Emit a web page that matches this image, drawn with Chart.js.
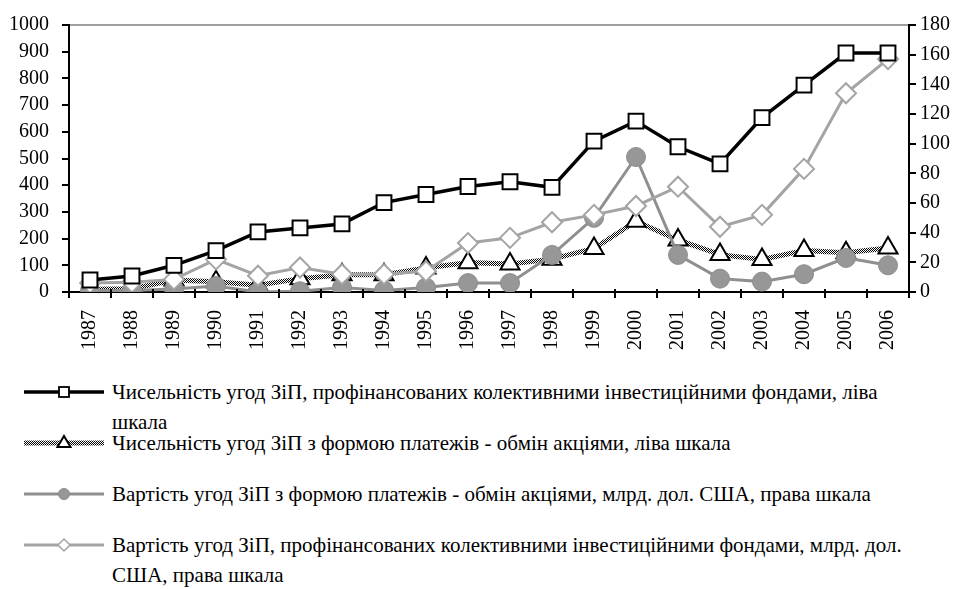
<!DOCTYPE html>
<html>
<head>
<meta charset="utf-8">
<script src="https://cdn.jsdelivr.net/npm/chart.js@4"></script>
<style>
  html, body { margin: 0; padding: 0; background: #fff; }
  body { width: 964px; height: 589px; position: relative; overflow: hidden;
         font-family: "Liberation Serif", Tinos, "DejaVu Serif", serif; }
  #chart { position: absolute; left: 0; top: 0; }
  .item { position: absolute; left: 0; height: 51px; width: 964px; }
  .item svg { position: absolute; left: 24px; top: 5px; }
  .item .txt { position: absolute; left: 112px; top: 0; font-size: 21px;
               line-height: 30px; white-space: nowrap; color: #000; }
</style>
</head>
<body>
<canvas id="chart" width="964" height="370"></canvas>
<div id="legend"></div>
<script>
const years = ["1987", "1988", "1989", "1990", "1991", "1992", "1993", "1994", "1995", "1996",
               "1997", "1998", "1999", "2000", "2001", "2002", "2003", "2004", "2005", "2006"];
// left axis
const dealsFunds = [45, 60, 100, 155, 225, 240, 255, 335, 365, 395,
                    413, 392, 565, 640, 544, 480, 653, 775, 895, 895];
const dealsShares = [10, 12, 45, 38, 25, 50, 65, 65, 90, 110,
                     105, 123, 163, 265, 195, 140, 122, 155, 147, 165];
// right axis
const valueShares = [1, 1, 2, 4, 0, 0.5, 3, 1, 3, 6,
                     6, 25, 50, 91, 25, 9, 7, 12, 23, 18];
const valueFunds = [6, 6.5, 8.5, 22, 11, 16.5, 12, 12, 14, 33,
                    36.5, 47, 52, 58, 71, 44, 52, 83, 134, 157];
const leftTicks = { min: 0, max: 1000, step: 100 };
const rightTicks = { min: 0, max: 180, step: 20 };

const labelTexts = [
    "Чисельність угод ЗіП, профінансованих колективними інвестиційними фондами, ліва<br>шкала",
    "Чисельність угод ЗіП з формою платежів - обмін акціями, ліва шкала",
    "Вартість угод ЗіП з формою платежів - обмін акціями, млрд. дол. США, права шкала",
    "Вартість угод ЗіП, профінансованих колективними інвестиційними фондами, млрд. дол.<br>США, права шкала"
];

const FONT = '"Liberation Serif", Tinos, "DejaVu Serif", serif';
Chart.defaults.font.family = FONT;
Chart.defaults.font.size = 20;
Chart.defaults.color = "#000";

// checkered pattern for the "exchange of shares" line
function makePattern() {
    const c = document.createElement("canvas");
    c.width = 2;
    c.height = 2;
    const g = c.getContext("2d");
    g.fillStyle = "#fff";
    g.fillRect(0, 0, 2, 2);
    g.fillStyle = "#000";
    g.fillRect(0, 0, 1, 1);
    g.fillRect(1, 1, 1, 1);
    return g.createPattern(c, "repeat");
}

// small inner part of the category ticks (they cross the axis)
const crossTicks = {
    id: "crossTicks",
    afterDraw(chart) {
        const x = chart.scales.x;
        const c = chart.ctx;
        const n = years.length;
        const w = (x.right - x.left) / n;
        c.save();
        c.strokeStyle = "#000";
        c.lineWidth = 2;
        c.beginPath();
        for (let i = 1; i < n; i++) {
            const px = Math.round(x.left + i * w);
            c.moveTo(px, x.top - 3);
            c.lineTo(px, x.top);
        }
        c.stroke();
        c.restore();
    }
};

function drawChart() {
    const ctx = document.getElementById("chart").getContext("2d");
    const hatch = makePattern();
    new Chart(ctx, {
        type: "line",
        data: {
            labels: years,
            datasets: [
                {
                    data: dealsFunds,
                    yAxisID: "y",
                    borderColor: "#000",
                    borderWidth: 3.5,
                    pointStyle: "rect",
                    pointRadius: 10.5,
                    pointBorderWidth: 2,
                    pointBackgroundColor: "#fff",
                    pointBorderColor: "#000",
                    order: 1,
                },
                {
                    data: dealsShares,
                    yAxisID: "y",
                    borderColor: hatch,
                    borderWidth: 5,
                    pointStyle: "triangle",
                    pointRadius: 11,
                    pointBorderWidth: 2,
                    pointBackgroundColor: "#fff",
                    pointBorderColor: "#000",
                    order: 4,
                },
                {
                    data: valueShares,
                    yAxisID: "y1",
                    borderColor: "#8f8f8f",
                    borderWidth: 3,
                    pointStyle: "circle",
                    pointRadius: 9.5,
                    pointBorderWidth: 1,
                    pointBackgroundColor: "#979797",
                    pointBorderColor: "#8c8c8c",
                    order: 3,
                },
                {
                    data: valueFunds,
                    yAxisID: "y1",
                    borderColor: "#a4a4a4",
                    borderWidth: 3,
                    pointStyle: "rectRot",
                    pointRadius: 10,
                    pointBorderWidth: 2,
                    pointBackgroundColor: "#fff",
                    pointBorderColor: "#a4a4a4",
                    order: 2,
                },
            ],
        },
        options: {
            responsive: false,
            animation: false,
            devicePixelRatio: 1,
            layout: { padding: { top: 16, left: 0, right: 0, bottom: 0 } },
            elements: { line: { tension: 0 } },
            plugins: { legend: { display: false }, tooltip: { enabled: false } },
            scales: {
                x: {
                    offset: true,
                    afterFit(s) { s.height = 78; },
                    grid: {
                        offset: true,
                        drawOnChartArea: false,
                        tickLength: 6,
                        tickColor: "#000",
                        lineWidth: 2,
                    },
                    border: { color: "#000", width: 2 },
                    ticks: { minRotation: 90, maxRotation: 90, autoSkip: false, padding: 12, font: { size: 20, family: FONT } },
                },
                y: {
                    position: "left",
                    min: leftTicks.min,
                    max: leftTicks.max,
                    afterFit(s) { s.width = 69; },
                    grid: {
                        color: (c) => (c.tick && c.tick.value === leftTicks.max ? "#a0a0a0" : "rgba(0,0,0,0)"),
                        tickColor: "#000",
                        tickLength: 7,
                        lineWidth: 2,
                    },
                    border: { color: "#000", width: 2 },
                    ticks: {
                        stepSize: leftTicks.step,
                        autoSkip: false,
                        padding: 13,
                        font: { size: 20, family: FONT },
                        callback: (v) => String(v),
                    },
                },
                y1: {
                    position: "right",
                    min: rightTicks.min,
                    max: rightTicks.max,
                    afterFit(s) { s.width = 55; },
                    grid: { drawOnChartArea: false, tickColor: "#000", tickLength: 7, lineWidth: 2 },
                    border: { color: "#000", width: 2 },
                    ticks: {
                        stepSize: rightTicks.step,
                        autoSkip: false,
                        padding: 4,
                        font: { size: 20, family: FONT },
                        callback: (v) => String(v),
                    },
                },
            },
        },
        plugins: [crossTicks],
    });
}

// legend drawn as html so the long labels can wrap like in the source
const legendStyles = [
    { line: "#000", lw: 3.5, marker: "square", stroke: "#000", fill: "#fff" },
    { line: "hatch", lw: 5, marker: "triangle", stroke: "#000", fill: "#fff" },
    { line: "#8f8f8f", lw: 3, marker: "circle", stroke: "#8c8c8c", fill: "#979797" },
    { line: "#a4a4a4", lw: 3, marker: "diamond", stroke: "#a4a4a4", fill: "#fff" },
];
const legendTops = [377, 428, 479, 530];

function markerSvg(st) {
    const cx = 40, cy = 10;
    if (st.marker === "square")
        return `<rect x="${cx - 5}" y="${cy - 5}" width="10" height="10" fill="${st.fill}" stroke="${st.stroke}" stroke-width="1.8"/>`;
    if (st.marker === "triangle")
        return `<polygon points="${cx},${cy - 7} ${cx + 6.5},${cy + 4} ${cx - 6.5},${cy + 4}" fill="${st.fill}" stroke="${st.stroke}" stroke-width="2"/>`;
    if (st.marker === "circle")
        return `<circle cx="${cx}" cy="${cy}" r="5.5" fill="${st.fill}" stroke="${st.stroke}" stroke-width="1"/>`;
    return `<polygon points="${cx},${cy - 6} ${cx + 6},${cy} ${cx},${cy + 6} ${cx - 6},${cy}" fill="${st.fill}" stroke="${st.stroke}" stroke-width="1.5"/>`;
}

function drawLegend() {
    const legend = document.getElementById("legend");
    labelTexts.forEach((t, i) => {
        const st = legendStyles[i];
        const lineStroke = st.line === "hatch" ? "url(#hatchPat)" : st.line;
        const defs = st.line === "hatch"
            ? `<defs><pattern id="hatchPat" width="2" height="2" patternUnits="userSpaceOnUse">
                 <rect width="2" height="2" fill="#fff"/><rect width="1" height="1" fill="#000"/>
                 <rect x="1" y="1" width="1" height="1" fill="#000"/></pattern></defs>`
            : "";
        const div = document.createElement("div");
        div.className = "item";
        div.style.top = legendTops[i] + "px";
        div.innerHTML =
            `<svg width="80" height="20">${defs}
               <line x1="0" y1="10" x2="80" y2="10" stroke="${lineStroke}" stroke-width="${st.lw}"/>
               ${markerSvg(st)}</svg>
             <div class="txt">${t}</div>`;
        legend.appendChild(div);
    });
}

drawLegend();
// make sure the serif face is ready before the canvas measures text
Promise.all([
    document.fonts.load('20px "Liberation Serif"', "1987 Чисельність"),
    document.fonts.load('21px "Liberation Serif"', "Чисельність"),
]).catch(() => {}).then(drawChart);
</script>
</body>
</html>
